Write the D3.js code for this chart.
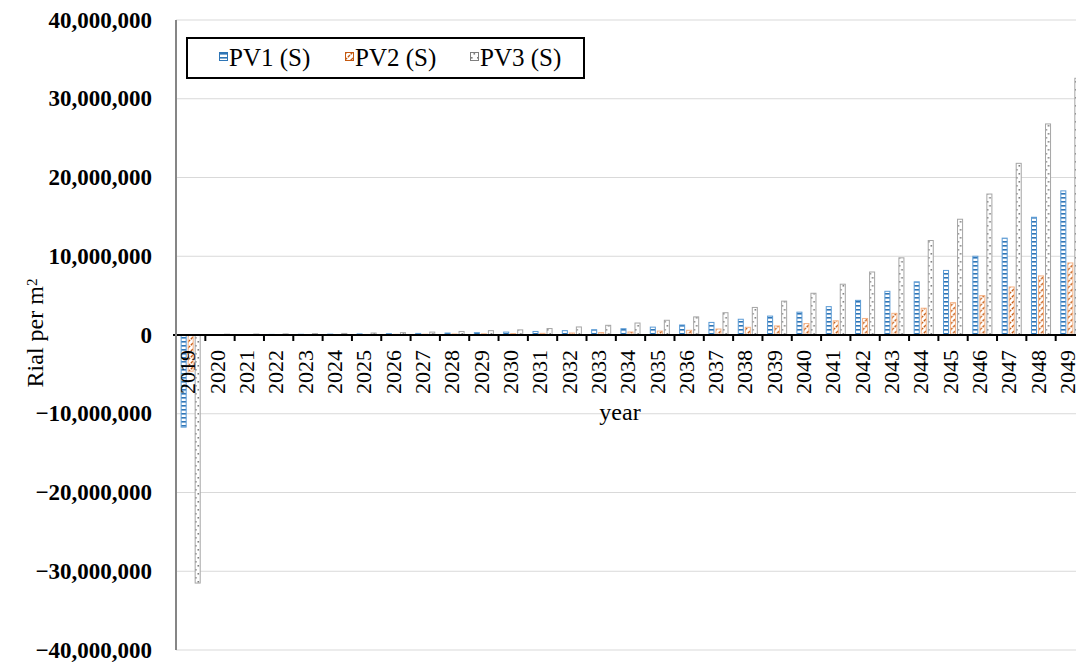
<!DOCTYPE html>
<html>
<head>
<meta charset="utf-8">
<script src="https://cdn.jsdelivr.net/npm/d3@7"></script>
<style>
  body { margin: 0; background: #fff; }
  text { font-family: "Liberation Serif", "Times New Roman", serif; fill: #000; }
</style>
</head>
<body>
<svg id="chart"></svg>
<script>
const WIDTH = 1076;
const HEIGHT = 664;

const years = [
  '2019', '2020', '2021', '2022', '2023', '2024', '2025', '2026', '2027', '2028',
  '2029', '2030', '2031', '2032', '2033', '2034', '2035', '2036', '2037', '2038',
  '2039', '2040', '2041', '2042', '2043', '2044', '2045', '2046', '2047', '2048', '2049',
];

const seriesNames = ['PV1 (S)', 'PV2 (S)', 'PV3 (S)'];

const pv1 = [
  -11700000, 50000, 60000, 75000, 90000, 110000, 140000, 170000, 200000, 250000,
  300000, 370000, 450000, 550000, 670000, 800000, 1000000, 1270000, 1600000, 2000000,
  2400000, 2900000, 3600000, 4400000, 5550000, 6750000, 8200000, 10000000, 12300000, 14950000, 18300000,
];

const pv2 = [
  -4600000, 25000, 30000, 37000, 45000, 55000, 70000, 85000, 100000, 125000,
  150000, 180000, 210000, 250000, 300000, 380000, 500000, 600000, 760000, 980000,
  1150000, 1450000, 1800000, 2100000, 2750000, 3400000, 4100000, 5000000, 6100000, 7500000, 9150000,
];

const pv3 = [
  -31500000, 100000, 120000, 140000, 170000, 200000, 250000, 300000, 370000, 450000,
  550000, 650000, 820000, 1020000, 1230000, 1520000, 1870000, 2300000, 2830000, 3500000,
  4300000, 5300000, 6450000, 8000000, 9800000, 12000000, 14700000, 17900000, 21800000, 26800000, 32600000,
];

const yTicks = [-40000000, -30000000, -20000000, -10000000, 0, 10000000, 20000000, 30000000, 40000000];

// fill pattern id, pattern ink, bar outline
const seriesStyle = [
  { id: 'pat-pv1', ink: '#2e75b6', stroke: '#5b9bd5' },
  { id: 'pat-pv2', ink: '#c55a11', stroke: '#f4b183' },
  { id: 'pat-pv3', ink: '#7f7f7f', stroke: '#a5a5a5' },
];

const seriesValues = [pv1, pv2, pv3];

const svg = d3.select('#chart')
  .attr('width', WIDTH)
  .attr('height', HEIGHT);

// patterns, roughly like Excel's pattern fills
const defs = svg.append('defs');

const p1 = defs.append('pattern')
  .attr('id', 'pat-pv1')
  .attr('patternUnits', 'userSpaceOnUse')
  .attr('width', 6)
  .attr('height', 4);
p1.append('rect').attr('width', 6).attr('height', 4).attr('fill', '#fff');
p1.append('rect').attr('y', 1).attr('width', 6).attr('height', 1.6).attr('fill', '#2e75b6');

const p2 = defs.append('pattern')
  .attr('id', 'pat-pv2')
  .attr('patternUnits', 'userSpaceOnUse')
  .attr('width', 6)
  .attr('height', 6);
p2.append('rect').attr('width', 6).attr('height', 6).attr('fill', '#fff');
p2.append('path')
  .attr('d', 'M0,6L6,0M-1,1L1,-1M5,7L7,5')
  .attr('stroke', '#c55a11')
  .attr('stroke-width', 1.4)
  .attr('stroke-dasharray', '3,1');

const p3 = defs.append('pattern')
  .attr('id', 'pat-pv3')
  .attr('patternUnits', 'userSpaceOnUse')
  .attr('width', 6)
  .attr('height', 8);
p3.append('rect').attr('width', 6).attr('height', 8).attr('fill', '#fff');
p3.append('rect').attr('x', 1).attr('y', 1).attr('width', 1.6).attr('height', 1.6).attr('fill', '#7f7f7f');
p3.append('rect').attr('x', 3.5).attr('y', 5).attr('width', 1.6).attr('height', 1.6).attr('fill', '#7f7f7f');

const x = d3.scaleBand()
  .domain(years)
  .range([176, 1085])
  .paddingInner(0)
  .paddingOuter(0);

const xInner = d3.scaleBand()
  .domain(seriesNames)
  .range([0, x.bandwidth()])
  .paddingInner(0.14)
  .paddingOuter(0.66);

const y = d3.scaleLinear()
  .domain([-40000000, 40000000])
  .range([650, 20]);

const fmt = d3.format(',');

// gridlines
svg.append('g')
  .selectAll('line')
  .data(yTicks)
  .enter()
  .append('line')
  .attr('x1', 176)
  .attr('x2', WIDTH)
  .attr('y1', d => y(d))
  .attr('y2', d => y(d))
  .attr('stroke', '#d9d9d9')
  .attr('stroke-width', 1);

// bars
const rows = years.map((year, i) => ({
  year,
  values: seriesNames.map((name, s) => ({ name, s, value: seriesValues[s][i] })),
}));

svg.append('g')
  .selectAll('g')
  .data(rows)
  .enter()
  .append('g')
  .attr('transform', row => `translate(${x(row.year)},0)`)
  .selectAll('rect')
  .data(row => row.values)
  .enter()
  .append('rect')
  .attr('x', d => xInner(d.name) + 0.5)
  .attr('width', xInner.bandwidth() - 1)
  .attr('y', d => Math.min(y(d.value), y(0)))
  .attr('height', d => Math.abs(y(d.value) - y(0)))
  .attr('fill', d => `url(#${seriesStyle[d.s].id})`)
  .attr('stroke', d => seriesStyle[d.s].stroke)
  .attr('stroke-width', 1);

// x axis at zero, ticks between categories
const xAxis = svg.append('g').attr('transform', `translate(0,${y(0)})`);
xAxis.append('line')
  .attr('x1', 173)
  .attr('x2', WIDTH)
  .attr('stroke', '#000')
  .attr('stroke-width', 2);
xAxis.selectAll('line.tick')
  .data(years)
  .enter()
  .append('line')
  .attr('class', 'tick')
  .attr('x1', d => x(d) + x.bandwidth())
  .attr('x2', d => x(d) + x.bandwidth())
  .attr('y1', 0)
  .attr('y2', 6)
  .attr('stroke', '#000')
  .attr('stroke-width', 2);
xAxis.selectAll('text')
  .data(years)
  .enter()
  .append('text')
  .attr('transform', d => `translate(${x(d) + x.bandwidth() / 2 - 3},15) rotate(-90)`)
  .attr('dy', '0.35em')
  .attr('text-anchor', 'end')
  .attr('font-size', 22)
  .text(d => d);

// y axis
svg.append('line')
  .attr('x1', 176)
  .attr('x2', 176)
  .attr('y1', y(40000000))
  .attr('y2', y(-40000000))
  .attr('stroke', '#868686')
  .attr('stroke-width', 2);

svg.append('g')
  .selectAll('text')
  .data(yTicks)
  .enter()
  .append('text')
  .attr('x', 152)
  .attr('y', d => y(d))
  .attr('dy', '0.33em')
  .attr('text-anchor', 'end')
  .attr('font-size', 23)
  .attr('font-weight', 'bold')
  .text(d => fmt(d));

// axis titles
svg.append('text')
  .attr('x', 620)
  .attr('y', 420)
  .attr('text-anchor', 'middle')
  .attr('font-size', 24)
  .text('year');

const yTitle = svg.append('text')
  .attr('transform', 'translate(35,333) rotate(-90)')
  .attr('dy', '0.35em')
  .attr('text-anchor', 'middle')
  .attr('font-size', 24);
yTitle.append('tspan').text('Rial per m');
yTitle.append('tspan')
  .attr('dy', '-0.45em')
  .attr('font-size', 15)
  .text('2');

// legend
const legend = svg.append('g');
legend.append('rect')
  .attr('x', 187)
  .attr('y', 38)
  .attr('width', 397)
  .attr('height', 40)
  .attr('fill', '#fff')
  .attr('stroke', '#000')
  .attr('stroke-width', 2);

const legendX = [219, 345, 470];
const items = legend.selectAll('g.item')
  .data(seriesNames)
  .enter()
  .append('g')
  .attr('class', 'item')
  .attr('transform', (d, i) => `translate(${legendX[i]},0)`);
items.append('rect')
  .attr('x', 0.5)
  .attr('y', 52.5)
  .attr('width', 8)
  .attr('height', 8)
  .attr('fill', (d, i) => `url(#${seriesStyle[i].id})`)
  .attr('stroke', (d, i) => seriesStyle[i].ink)
  .attr('stroke-width', 1);
items.append('text')
  .attr('x', 10)
  .attr('y', 66)
  .attr('font-size', 25)
  .text(d => d);
</script>
</body>
</html>
